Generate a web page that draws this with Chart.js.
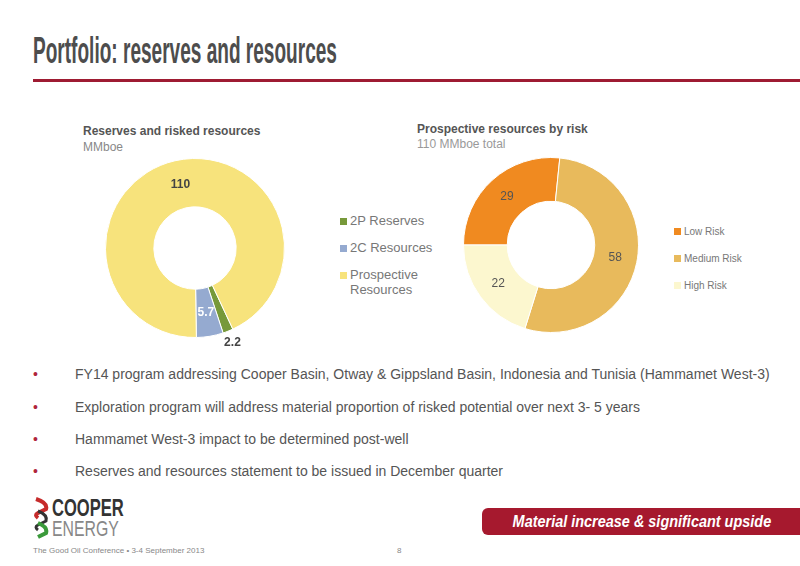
<!DOCTYPE html>
<html lang="en">
<head>
<meta charset="UTF-8">
<script src="https://cdn.jsdelivr.net/npm/chart.js"></script>
<style>
  body { margin:0; width:800px; height:566px; position:relative; background:#fff; font-family:"Liberation Sans", Arial, sans-serif; overflow:hidden; }
  .abs { position:absolute; }
  #title { left:33px; top:30px; font-size:37px; font-weight:bold; color:#4d4d4d; transform:scaleX(0.515); transform-origin:left top; white-space:nowrap; }
  #rule { left:33px; top:79px; width:767px; height:3px; background:#9e1b32; }
  .ctitle { font-size:12px; font-weight:bold; color:#555; }
  .csub { font-size:12px; color:#888; }
  .legend { font-size:13px; color:#777; }
  .legend div { position:absolute; white-space:nowrap; }
  .sw { display:inline-block; width:7px; height:7px; margin-right:3px; }
  .bul { left:33px; font-size:14px; color:#555; white-space:nowrap; }
  .bul span { display:inline-block; width:42px; color:#b0243b; }
  #banner { left:482px; top:508px; width:330px; height:27px; background:#a6192e; border-radius:6px 0 0 6px; color:#fff; font-weight:bold; font-style:italic; font-size:17px; line-height:27px; }
  #banner div { transform:scaleX(0.85); transform-origin:left; padding-left:36px; white-space:nowrap; }
  .foot { font-size:8px; color:#888; top:546px; }
</style>
</head>
<body>
<div id="title" class="abs">Portfolio: reserves and resources</div>
<div id="rule" class="abs"></div>

<div class="abs ctitle" style="left:83px;top:124px;">Reserves and risked resources</div>
<div class="abs csub" style="left:83px;top:140px;">MMboe</div>
<div class="abs ctitle" style="left:417px;top:122px;">Prospective resources by risk</div>
<div class="abs csub" style="left:417px;top:137px;color:#999;">110 MMboe total</div>

<canvas id="left" class="abs" width="230" height="230" style="left:80px;top:133px;"></canvas>
<canvas id="right" class="abs" width="216" height="216" style="left:443px;top:137px;"></canvas>

<div class="legend abs" id="legL" style="left:340px;top:213px;"></div>
<div class="legend abs" id="legR" style="left:674px;top:226px;font-size:10px;"></div>

<div class="abs bul" style="top:366px;"><span>•</span>FY14 program addressing Cooper Basin, Otway &amp; Gippsland Basin, Indonesia and Tunisia (Hammamet West-3)</div>
<div class="abs bul" style="top:399px;"><span>•</span>Exploration program will address material proportion of risked potential over next 3- 5 years</div>
<div class="abs bul" style="top:431px;"><span>•</span>Hammamet West-3 impact to be determined post-well</div>
<div class="abs bul" style="top:463px;"><span>•</span>Reserves and resources statement to be issued in December quarter</div>

<svg class="abs" style="left:34px;top:497px;" width="16" height="44" viewBox="0 0 16 44">
  <path d="M2 2 Q14 6 12 12 L4 16 Q0 18 4 21" stroke="#c62b2b" stroke-width="4" fill="none"/>
  <path d="M4 14 Q14 18 12 24 L4 28 Q0 30 4 33" stroke="#333" stroke-width="3" fill="none"/>
  <path d="M4 26 Q14 30 12 36 L4 40" stroke="#3a9a3a" stroke-width="4" fill="none"/>
</svg>
<div class="abs" style="left:52px;top:497px;font-size:23px;font-weight:bold;color:#333;transform:scaleX(0.72);transform-origin:left top;line-height:22px;">COOPER</div>
<div class="abs" style="left:52px;top:518px;font-size:22px;color:#888;transform:scaleX(0.72);transform-origin:left top;line-height:22px;">ENERGY</div>

<div id="banner" class="abs"><div>Material increase &amp; significant upside</div></div>
<div class="abs foot" style="left:33px;">The Good Oil Conference • 3-4 September 2013</div>
<div class="abs foot" style="left:397px;">8</div>

<script>
const leftLabels = ['2P Reserves', '2C Resources', 'Prospective\nResources'];
const leftValues = [2.2, 5.7, 110];
const leftColors = ['#77993a', '#95aad0', '#f7e37c'];

const rightLabels = ['Low Risk', 'Medium Risk', 'High Risk'];
const rightValues = [29, 58, 22];
const rightColors = ['#f08a20', '#e8ba5c', '#fcf7cf'];

// value labels at ring middle; per-slice radius factor and colour
const sliceLabels = {
  id: 'sliceLabels',
  afterDatasetsDraw(chart, args, opts) {
    const ctx = chart.ctx;
    chart.getDatasetMeta(0).data.forEach((arc, i) => {
      const p = arc.getProps(['startAngle','endAngle','innerRadius','outerRadius','x','y'], true);
      const a = (p.startAngle + p.endAngle) / 2;
      const r = p.innerRadius + (p.outerRadius - p.innerRadius) * opts.pos[i];
      ctx.save();
      ctx.font = opts.font;
      ctx.fillStyle = opts.colors[i];
      ctx.textAlign = 'center';
      ctx.textBaseline = 'middle';
      ctx.fillText(String(chart.data.datasets[0].data[i]), p.x + Math.cos(a) * r, p.y + Math.sin(a) * r);
      ctx.restore();
    });
  }
};

function donut(id, labels, values, colors, rot, cut, pad, labelOpts) {
  new Chart(document.getElementById(id), {
    type: 'doughnut',
    data: { labels: labels, datasets: [{ data: values, backgroundColor: colors, borderColor: '#fff', borderWidth: 1 }] },
    options: {
      responsive: false, animation: false, rotation: rot, cutout: cut,
      layout: { padding: pad },
      plugins: { legend: { display: false }, tooltip: { enabled: false }, sliceLabels: labelOpts }
    },
    plugins: [sliceLabels]
  });
}

donut('left', leftLabels, leftValues, leftColors, 155, '46%', 25,
  { pos: [1.25, 0.5, 0.5], colors: ['#444', '#fff', '#444'], font: 'bold 12px "Liberation Sans", Arial' });
donut('right', rightLabels, rightValues, rightColors, -90, '50%', 20,
  { pos: [0.5, 0.5, 0.5], colors: ['#555', '#555', '#555'], font: '12px "Liberation Sans", Arial' });

function legend(id, labels, colors, gap) {
  const el = document.getElementById(id);
  labels.forEach((l, i) => {
    const d = document.createElement('div');
    d.style.top = (i * gap) + 'px';
    d.innerHTML = '<span class="sw" style="background:' + colors[i] + '"></span>' + l.replace('\n', '<br><span style="margin-left:10px"></span>');
    el.appendChild(d);
  });
}
legend('legL', leftLabels, leftColors, 27);
legend('legR', rightLabels, rightColors, 27);
</script>
</body>
</html>
